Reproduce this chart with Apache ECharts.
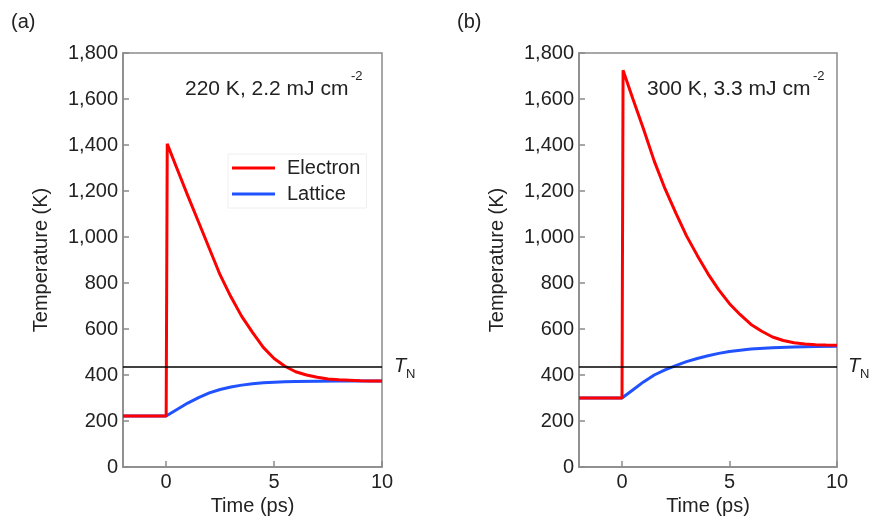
<!DOCTYPE html>
<html>
<head>
<meta charset="utf-8">
<title>Electron / Lattice temperature</title>
<script src="https://cdn.jsdelivr.net/npm/echarts@6/dist/echarts.min.js"></script>
<style>
	html, body {
		margin: 0px;
		padding: 0px;
		background: #ffffff;
	}

	#box {
		width: 876px;
		height: 529px;
	}
</style>
</head>
<body>
<div id="box"></div>
<script>
	// 数据
	var TN = 435;

	// (a) 220 K, 2.2 mJ cm-2
	var timeElecA = [-2, 0, 0.05, 0.5, 1, 1.5, 2, 2.5, 3, 3.5, 4, 4.5, 5, 5.5, 6, 6.5, 7, 7.5, 8, 8.5, 9, 9.5, 10];
	var elecA = [222, 222, 1405, 1298, 1180, 1065, 950, 835, 740, 655, 585, 520, 472, 438, 414, 400, 390, 383, 379, 377, 375, 374, 374];
	var timeLatA = [-2, 0, 0.5, 1, 1.5, 2, 2.5, 3, 3.5, 4, 4.5, 5, 5.5, 6, 7, 8, 9, 10];
	var latA = [222, 222, 250, 278, 302, 322, 337, 348, 356, 362, 366, 369, 371, 372, 373, 374, 374, 374];

	// (b) 300 K, 3.3 mJ cm-2
	var timeElecB = [-2, 0, 0.05, 0.5, 1, 1.5, 2, 2.5, 3, 3.5, 4, 4.5, 5, 5.5, 6, 6.5, 7, 7.5, 8, 8.5, 9, 9.5, 10];
	var elecB = [300, 300, 1725, 1602, 1470, 1330, 1210, 1105, 1005, 920, 840, 770, 710, 662, 620, 590, 565, 550, 540, 535, 532, 530, 529];
	var timeLatB = [-2, 0, 0.5, 1, 1.5, 2, 2.5, 3, 3.5, 4, 4.5, 5, 5.5, 6, 7, 8, 9, 10];
	var latB = [300, 300, 335, 370, 400, 422, 441, 458, 472, 484, 494, 502, 508, 513, 519, 522, 524, 525];

	var xTicks = [0, 5, 10];

	function pairs(xs, ys) {
		return xs.map(function (x, i) {
			return [x, ys[i]];
		});
	}

	var font = "'Liberation Sans', Arial, sans-serif";
	var axisColor = '#8a8a8a';
	var red = '#ff0000';
	var blue = '#2152ff';

	function makeX(gridIndex) {
		return {
			type: 'value',
			gridIndex: gridIndex,
			min: -2,
			max: 10,
			name: 'Time (ps)',
			nameLocation: 'middle',
			nameGap: 27,
			nameTextStyle: { fontSize: 20, color: '#222', fontFamily: font },
			axisLine: { show: true, onZero: false, lineStyle: { color: axisColor, width: 1.5 } },
			axisTick: { show: true, inside: true, length: 6, customValues: xTicks, lineStyle: { color: axisColor, width: 1.5 } },
			axisLabel: { customValues: xTicks, fontSize: 20, color: '#222', fontFamily: font, margin: 5 },
			splitLine: { show: false }
		};
	}

	function makeY(gridIndex) {
		return {
			type: 'value',
			gridIndex: gridIndex,
			min: 0,
			max: 1800,
			interval: 200,
			name: 'Temperature (K)',
			nameLocation: 'middle',
			nameGap: 72,
			nameTextStyle: { fontSize: 20, color: '#222', fontFamily: font },
			axisLine: { show: true, onZero: false, lineStyle: { color: axisColor, width: 1.5 } },
			axisTick: { show: true, inside: true, length: 6, lineStyle: { color: axisColor, width: 1.5 } },
			axisLabel: {
				fontSize: 20,
				color: '#222',
				fontFamily: font,
				margin: 5,
				formatter: function (v) {
					return v.toLocaleString('en-US');
				}
			},
			splitLine: { show: false }
		};
	}

	function lineSeries(name, idx, data, color) {
		return {
			name: name,
			type: 'line',
			xAxisIndex: idx,
			yAxisIndex: idx,
			data: data,
			showSymbol: false,
			symbol: 'none',
			color: color,
			lineStyle: { color: color, width: 3 },
			animation: false
		};
	}

	function tnSeries(idx) {
		return {
			name: 'TN',
			type: 'line',
			xAxisIndex: idx,
			yAxisIndex: idx,
			data: [[-2, TN], [10, TN]],
			symbol: 'none',
			silent: true,
			lineStyle: { color: '#000', width: 1.5 },
			animation: false
		};
	}

	var myChart = echarts.init(document.getElementById('box'));

	var option = {
		backgroundColor: '#fff',
		animation: false,
		grid: [
			{ left: 123, top: 53, width: 259, height: 414, show: true, borderColor: axisColor, borderWidth: 1.5 },
			{ left: 579, top: 53, width: 258, height: 414, show: true, borderColor: axisColor, borderWidth: 1.5 }
		],
		xAxis: [makeX(0), makeX(1)],
		yAxis: [makeY(0), makeY(1)],
		legend: {
			data: ['Electron', 'Lattice'],
			orient: 'vertical',
			left: 228,
			top: 154,
			padding: [4, 6, 4, 4],
			itemGap: 6,
			itemWidth: 43,
			itemHeight: 3,
			icon: 'rect',
			backgroundColor: '#fff',
			borderColor: '#eeeeee',
			borderWidth: 1,
			textStyle: { fontSize: 20, color: '#222', fontFamily: font, padding: [0, 0, 0, 7], lineHeight: 20 }
		},
		series: [
			lineSeries('Lattice', 0, pairs(timeLatA, latA), blue),
			lineSeries('Electron', 0, pairs(timeElecA, elecA), red),
			tnSeries(0),
			lineSeries('Lattice', 1, pairs(timeLatB, latB), blue),
			lineSeries('Electron', 1, pairs(timeElecB, elecB), red),
			tnSeries(1)
		]
	};

	myChart.setOption(option);

	// 标注文字 (panel letters, conditions, T_N labels)
	var pA = myChart.convertToPixel({ gridIndex: 0 }, [10, TN]);
	var pB = myChart.convertToPixel({ gridIndex: 1 }, [10, TN]);

	function t(x, y, text, size, extra) {
		var style = {
			text: text,
			fontSize: size,
			fontFamily: font,
			fill: '#222',
			verticalAlign: 'middle',
			align: 'left'
		};
		for (var k in extra) style[k] = extra[k];
		return { type: 'text', x: x, y: y, style: style, z: 100 };
	}

	myChart.setOption({
		graphic: [
			t(11, 22, '(a)', 20),
			t(457, 22, '(b)', 20),
			t(185, 89, '220 K, 2.2 mJ cm', 21),
			t(351, 76, '-2', 13),
			t(647, 89, '300 K, 3.3 mJ cm', 21),
			t(813, 76, '-2', 13),
			t(pA[0] + 12, pA[1] - 1, 'T', 20, { fontStyle: 'italic' }),
			t(pA[0] + 24, pA[1] + 7, 'N', 13),
			t(pB[0] + 11, pB[1] - 1, 'T', 20, { fontStyle: 'italic' }),
			t(pB[0] + 23, pB[1] + 7, 'N', 13)
		]
	});
</script>
</body>
</html>
